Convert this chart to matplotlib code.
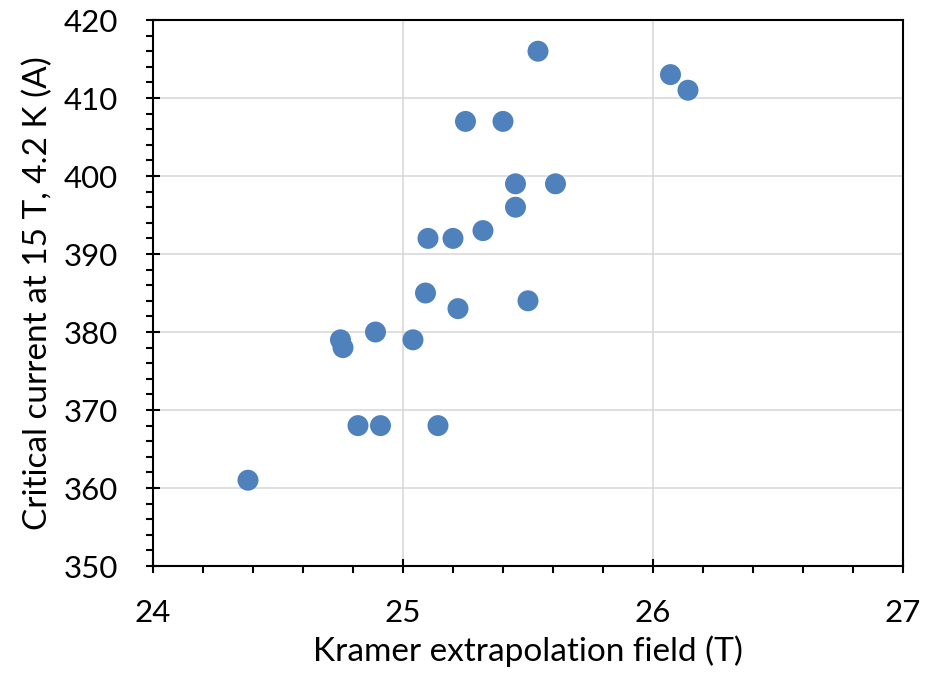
import matplotlib
matplotlib.use("Agg")
import matplotlib.pyplot as plt
from matplotlib.ticker import MultipleLocator

kramer_field = [24.38, 24.75, 24.76, 24.82, 24.89, 24.91, 25.04, 25.09, 25.10,
                25.14, 25.20, 25.22, 25.25, 25.32, 25.40, 25.45, 25.45, 25.50,
                25.54, 25.61, 26.07, 26.14]
critical_current = [361, 379, 378, 368, 380, 368, 379, 385, 392,
                    368, 392, 383, 407, 393, 407, 399, 396, 384,
                    416, 399, 413, 411]

plt.rcParams["font.family"] = ["Lato", "DejaVu Sans"]

fig = plt.figure(figsize=(9.34, 6.76), dpi=100)
ax = fig.add_axes([0.1638, 0.1627, 0.803, 0.8077])

ax.scatter(kramer_field, critical_current, s=228, color="#4F81BD",
           edgecolors="none", zorder=3)

ax.set_xlim(24, 27)
ax.set_ylim(350, 420)
ax.xaxis.set_major_locator(MultipleLocator(1))
ax.xaxis.set_minor_locator(MultipleLocator(0.2))
ax.yaxis.set_major_locator(MultipleLocator(10))
ax.yaxis.set_minor_locator(MultipleLocator(2))

ax.grid(True, which="major", color="#d9d9d9", linewidth=1.2)
ax.set_axisbelow(True)

for s in ax.spines.values():
    s.set_linewidth(1.5)
    s.set_color("black")

ax.tick_params(which="major", direction="inout", length=10, width=1.5,
               labelsize=22.5)
ax.tick_params(axis="x", which="major", pad=19)
ax.tick_params(axis="y", which="major", pad=20)
ax.tick_params(which="minor", direction="out", length=5, width=1.5)

ax.set_xlabel("Kramer extrapolation field (T)", fontsize=24, labelpad=6)
ax.set_ylabel("Critical current at 15 T, 4.2 K (A)", fontsize=24, labelpad=8)

fig.savefig("out.png", dpi=100)
